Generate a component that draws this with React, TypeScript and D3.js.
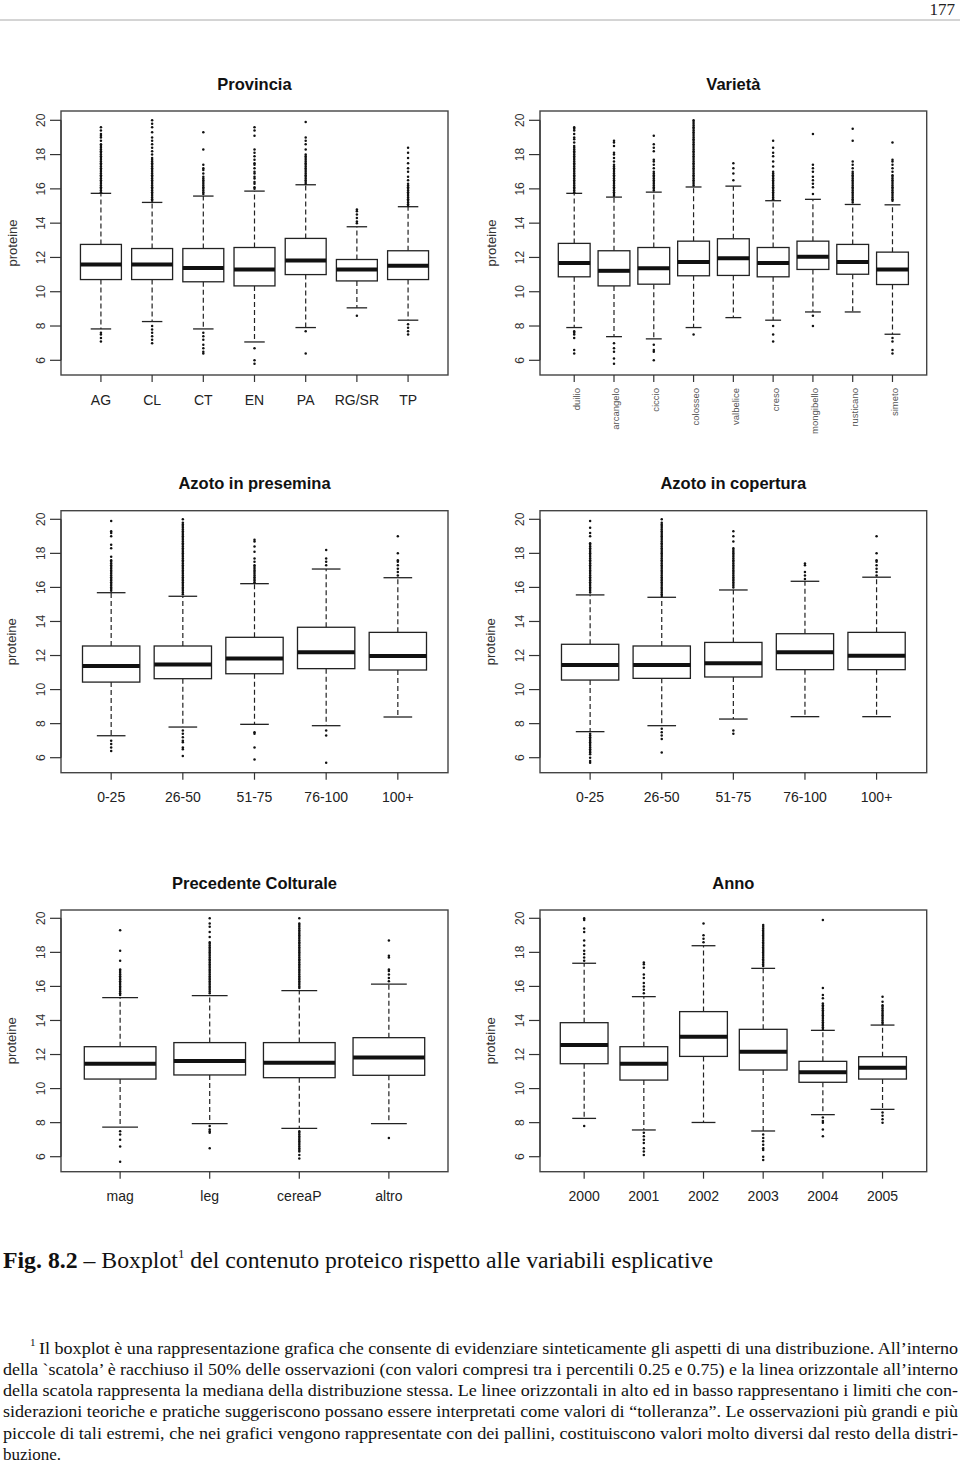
import React from 'react';
import * as d3 from 'd3';

// ---------- Provincia ----------
const provCats = ['AG', 'CL', 'CT', 'EN', 'PA', 'RG/SR', 'TP'];
const provQ1 = [10.71, 10.71, 10.58, 10.34, 11.0, 10.63, 10.71];
const provMed = [11.59, 11.59, 11.39, 11.3, 11.82, 11.3, 11.51];
const provQ3 = [12.76, 12.52, 12.52, 12.58, 13.11, 11.88, 12.39];
const provLo = [7.83, 8.26, 7.83, 7.07, 7.91, 9.06, 8.34];
const provHi = [15.74, 15.21, 15.58, 15.87, 16.24, 13.79, 14.96];
const provOut = [
  [7.1, 7.3, 7.5, 7.6, 15.8, 15.9, 16.0, 16.1, 16.2, 16.3, 16.4, 16.5, 16.6, 16.7, 16.8, 16.9, 17.0, 17.1, 17.2, 17.3, 17.4, 17.5, 17.6, 17.7, 17.8, 17.9, 18.0, 18.1, 18.2, 18.3, 18.4, 18.5, 18.6, 18.8, 19.0, 19.1, 19.2, 19.4, 19.6],
  [7.0, 7.2, 7.4, 7.6, 7.8, 8.0, 15.3, 15.4, 15.5, 15.6, 15.7, 15.8, 15.9, 16.0, 16.1, 16.2, 16.3, 16.4, 16.5, 16.6, 16.7, 16.8, 16.9, 17.0, 17.1, 17.2, 17.3, 17.4, 17.5, 17.6, 17.7, 17.8, 18.0, 18.2, 18.4, 18.6, 18.8, 19.0, 19.3, 19.6, 19.8, 20.0],
  [6.4, 6.5, 6.7, 6.9, 7.2, 7.4, 7.6, 15.7, 15.8, 15.9, 16.0, 16.1, 16.2, 16.3, 16.4, 16.5, 16.6, 16.7, 16.9, 17.1, 17.2, 17.4, 18.3, 19.3],
  [5.8, 6.0, 6.7, 16.0, 16.1, 16.3, 16.4, 16.6, 16.7, 16.9, 17.0, 17.2, 17.4, 17.5, 17.7, 17.9, 18.1, 18.3, 19.1, 19.4, 19.6],
  [6.4, 7.7, 16.3, 16.4, 16.5, 16.6, 16.7, 16.8, 16.9, 17.0, 17.1, 17.2, 17.3, 17.4, 17.5, 17.6, 17.7, 17.8, 17.9, 18.0, 18.3, 18.6, 18.8, 19.0, 19.9],
  [8.6, 14.0, 14.1, 14.3, 14.5, 14.7, 14.8],
  [7.5, 7.7, 7.9, 8.1, 15.0, 15.1, 15.2, 15.3, 15.4, 15.5, 15.6, 15.7, 15.8, 15.9, 16.0, 16.1, 16.2, 16.3, 16.5, 16.7, 17.0, 17.2, 17.5, 17.8, 18.1, 18.4],
];

// ---------- Varietà ----------
const varCats = ['duilio', 'arcangelo', 'ciccio', 'colosseo', 'valbelice', 'creso', 'mongibello', 'rusticano', 'simeto'];
const varQ1 = [10.87, 10.34, 10.44, 10.93, 10.95, 10.87, 11.3, 11.02, 10.42];
const varMed = [11.67, 11.22, 11.37, 11.74, 11.96, 11.67, 12.04, 11.74, 11.3];
const varQ3 = [12.82, 12.39, 12.58, 12.95, 13.09, 12.58, 12.95, 12.76, 12.31];
const varLo = [7.91, 7.38, 7.25, 7.91, 8.49, 8.34, 8.82, 8.82, 7.52];
const varHi = [15.74, 15.52, 15.81, 16.11, 16.16, 15.31, 15.39, 15.09, 15.07];
const varOut = [
  [6.4, 6.6, 7.3, 7.5, 7.6, 7.7, 15.8, 15.9, 16.0, 16.1, 16.2, 16.3, 16.4, 16.5, 16.6, 16.7, 16.8, 16.9, 17.0, 17.1, 17.2, 17.3, 17.4, 17.5, 17.6, 17.7, 17.8, 17.9, 18.0, 18.1, 18.2, 18.3, 18.4, 18.5, 18.7, 18.9, 19.0, 19.2, 19.4, 19.5, 19.6],
  [5.8, 6.1, 6.5, 6.7, 7.0, 15.6, 15.7, 15.8, 15.9, 16.0, 16.1, 16.2, 16.3, 16.4, 16.5, 16.6, 16.7, 16.8, 16.9, 17.0, 17.1, 17.2, 17.3, 17.4, 17.6, 17.8, 18.0, 18.1, 18.5, 18.7, 18.8],
  [6.0, 6.5, 6.6, 6.9, 15.9, 16.0, 16.1, 16.2, 16.3, 16.4, 16.5, 16.6, 16.7, 16.8, 16.9, 17.0, 17.2, 17.4, 17.6, 17.7, 18.2, 18.4, 18.6, 19.1],
  [7.5, 16.2, 16.3, 16.4, 16.5, 16.6, 16.7, 16.8, 16.9, 17.0, 17.1, 17.2, 17.3, 17.4, 17.5, 17.6, 17.7, 17.8, 17.9, 18.0, 18.1, 18.2, 18.3, 18.4, 18.5, 18.6, 18.7, 18.8, 18.9, 19.0, 19.1, 19.2, 19.3, 19.4, 19.5, 19.6, 19.7, 19.8, 19.9, 20.0],
  [16.5, 16.9, 17.2, 17.5],
  [7.1, 7.5, 8.0, 15.4, 15.5, 15.6, 15.7, 15.8, 15.9, 16.0, 16.1, 16.2, 16.3, 16.4, 16.5, 16.6, 16.7, 16.8, 16.9, 17.0, 17.3, 17.6, 17.9, 18.1, 18.4, 18.8],
  [8.0, 8.6, 15.7, 16.1, 16.3, 16.5, 16.7, 17.0, 17.2, 17.4, 19.2],
  [15.2, 15.3, 15.4, 15.5, 15.6, 15.7, 15.8, 15.9, 16.0, 16.1, 16.2, 16.3, 16.4, 16.5, 16.6, 16.7, 16.8, 16.9, 17.0, 17.2, 17.4, 17.6, 18.8, 19.5],
  [6.4, 6.6, 7.1, 7.3, 15.3, 15.4, 15.5, 15.6, 15.7, 15.8, 15.9, 16.0, 16.1, 16.2, 16.3, 16.4, 16.5, 16.6, 16.7, 16.8, 17.0, 17.2, 17.4, 17.6, 17.7, 18.7],
];

// ---------- Azoto in presemina ----------
const presCats = ['0-25', '26-50', '51-75', '76-100', '100+'];
const presQ1 = [10.44, 10.64, 10.93, 11.23, 11.15];
const presMed = [11.38, 11.48, 11.82, 12.19, 11.97];
const presQ3 = [12.56, 12.56, 13.07, 13.66, 13.36];
const presLo = [7.29, 7.8, 7.96, 7.88, 8.39];
const presHi = [15.69, 15.48, 16.22, 17.08, 16.57];
const presOut = [
  [6.4, 6.6, 6.8, 7.0, 15.8, 15.9, 16.0, 16.1, 16.2, 16.3, 16.4, 16.5, 16.6, 16.7, 16.8, 16.9, 17.0, 17.1, 17.2, 17.3, 17.4, 17.5, 17.6, 17.8, 18.3, 18.5, 19.0, 19.2, 19.3, 19.9],
  [6.1, 6.5, 6.6, 6.9, 7.0, 7.2, 7.4, 7.6, 15.6, 15.7, 15.8, 15.9, 16.0, 16.1, 16.2, 16.3, 16.4, 16.5, 16.6, 16.7, 16.8, 16.9, 17.0, 17.1, 17.2, 17.3, 17.4, 17.5, 17.6, 17.7, 17.8, 17.9, 18.0, 18.1, 18.2, 18.3, 18.4, 18.5, 18.6, 18.7, 18.8, 18.9, 19.0, 19.1, 19.2, 19.3, 19.4, 19.5, 19.6, 19.7, 19.8, 20.0],
  [5.9, 6.6, 7.4, 7.5, 16.3, 16.4, 16.5, 16.6, 16.7, 16.8, 16.9, 17.0, 17.1, 17.2, 17.3, 17.5, 17.7, 18.1, 18.4, 18.7, 18.8],
  [5.7, 7.3, 7.6, 17.3, 17.5, 17.7, 18.2],
  [16.7, 16.9, 17.1, 17.3, 17.5, 17.6, 18.0, 19.0],
];

// ---------- Azoto in copertura ----------
const copCats = ['0-25', '26-50', '51-75', '76-100', '100+'];
const copQ1 = [10.56, 10.66, 10.74, 11.17, 11.17];
const copMed = [11.44, 11.44, 11.54, 12.19, 11.99];
const copQ3 = [12.66, 12.56, 12.77, 13.28, 13.36];
const copLo = [7.53, 7.88, 8.27, 8.41, 8.41];
const copHi = [15.56, 15.42, 15.85, 16.36, 16.6];
const copOut = [
  [5.7, 5.8, 6.0, 6.2, 6.3, 6.4, 6.5, 6.6, 6.7, 6.8, 6.9, 7.0, 7.1, 7.2, 7.3, 7.4, 15.7, 15.8, 15.9, 16.0, 16.1, 16.2, 16.3, 16.4, 16.5, 16.6, 16.7, 16.8, 16.9, 17.0, 17.1, 17.2, 17.3, 17.4, 17.5, 17.6, 17.7, 17.8, 17.9, 18.0, 18.1, 18.2, 18.3, 18.4, 18.5, 18.6, 19.0, 19.2, 19.5, 19.9],
  [6.3, 7.1, 7.3, 7.5, 7.7, 15.5, 15.6, 15.7, 15.8, 15.9, 16.0, 16.1, 16.2, 16.3, 16.4, 16.5, 16.6, 16.7, 16.8, 16.9, 17.0, 17.1, 17.2, 17.3, 17.4, 17.5, 17.6, 17.7, 17.8, 17.9, 18.0, 18.1, 18.2, 18.3, 18.4, 18.5, 18.6, 18.7, 18.8, 18.9, 19.0, 19.1, 19.2, 19.3, 19.4, 19.5, 19.6, 19.7, 19.8, 20.0],
  [7.4, 7.6, 16.0, 16.1, 16.2, 16.3, 16.4, 16.5, 16.6, 16.7, 16.8, 16.9, 17.0, 17.1, 17.2, 17.3, 17.4, 17.5, 17.6, 17.7, 17.8, 17.9, 18.0, 18.1, 18.2, 18.3, 18.7, 19.0, 19.3],
  [16.5, 16.7, 16.9, 17.3, 17.4],
  [16.7, 16.9, 17.1, 17.3, 17.5, 17.6, 18.0, 19.0],
];

// ---------- Precedente Colturale ----------
const precCats = ['mag', 'leg', 'cereaP', 'altro'];
const precQ1 = [10.56, 10.8, 10.64, 10.78];
const precMed = [11.46, 11.62, 11.52, 11.82];
const precQ3 = [12.46, 12.7, 12.7, 12.99];
const precLo = [7.74, 7.94, 7.66, 7.94];
const precHi = [15.34, 15.46, 15.75, 16.14];
const precOut = [
  [5.7, 6.6, 7.0, 7.3, 7.5, 15.5, 15.6, 15.7, 15.8, 15.9, 16.0, 16.1, 16.2, 16.3, 16.4, 16.5, 16.6, 16.7, 16.8, 16.9, 17.0, 17.5, 18.1, 19.3],
  [6.5, 7.4, 7.5, 7.6, 7.8, 15.6, 15.7, 15.8, 15.9, 16.0, 16.1, 16.2, 16.3, 16.4, 16.5, 16.6, 16.7, 16.8, 16.9, 17.0, 17.1, 17.2, 17.3, 17.4, 17.5, 17.6, 17.7, 17.8, 17.9, 18.0, 18.1, 18.2, 18.3, 18.4, 18.5, 18.6, 18.9, 19.2, 19.5, 19.7, 20.0],
  [5.9, 6.1, 6.3, 6.4, 6.5, 6.6, 6.7, 6.8, 6.9, 7.0, 7.1, 7.2, 7.3, 7.4, 7.5, 15.9, 16.0, 16.1, 16.2, 16.3, 16.4, 16.5, 16.6, 16.7, 16.8, 16.9, 17.0, 17.1, 17.2, 17.3, 17.4, 17.5, 17.6, 17.7, 17.8, 17.9, 18.0, 18.1, 18.2, 18.3, 18.4, 18.5, 18.6, 18.7, 18.8, 18.9, 19.0, 19.1, 19.2, 19.3, 19.4, 19.5, 19.6, 19.7, 20.0],
  [7.1, 16.3, 16.5, 16.7, 16.9, 17.0, 17.7, 17.8, 18.7],
];

// ---------- Anno ----------
const annoCats = ['2000', '2001', '2002', '2003', '2004', '2005'];
const annoQ1 = [11.46, 10.5, 11.89, 11.09, 10.37, 10.56];
const annoMed = [12.56, 11.46, 13.05, 12.17, 10.96, 11.23];
const annoQ3 = [13.87, 12.46, 14.52, 13.48, 11.6, 11.87];
const annoLo = [8.25, 7.57, 8.01, 7.51, 8.47, 8.78];
const annoHi = [17.36, 15.4, 18.39, 17.06, 13.42, 13.73];
const annoOut = [
  [7.8, 17.5, 17.7, 17.9, 18.1, 18.4, 18.7, 19.2, 19.4, 19.9, 20.0],
  [6.1, 6.3, 6.5, 6.8, 7.0, 7.2, 7.4, 15.6, 15.8, 16.0, 16.2, 16.5, 16.7, 17.1, 17.3, 17.4],
  [18.6, 18.8, 19.0, 19.7],
  [5.8, 6.0, 6.4, 6.5, 6.7, 6.9, 7.1, 7.3, 17.2, 17.3, 17.4, 17.5, 17.6, 17.7, 17.8, 17.9, 18.0, 18.1, 18.2, 18.3, 18.4, 18.5, 18.6, 18.7, 18.8, 18.9, 19.0, 19.1, 19.2, 19.3, 19.4, 19.5, 19.6],
  [7.2, 7.6, 8.0, 8.1, 8.3, 13.5, 13.6, 13.7, 13.8, 13.9, 14.0, 14.1, 14.2, 14.3, 14.4, 14.5, 14.6, 14.7, 14.8, 14.9, 15.0, 15.3, 15.5, 15.9, 19.9],
  [8.0, 8.2, 8.4, 8.6, 13.8, 13.9, 14.0, 14.1, 14.2, 14.3, 14.4, 14.5, 14.6, 14.7, 14.8, 14.9, 15.1, 15.4],
];

const yTicks = [6, 8, 10, 12, 14, 16, 18, 20];

const footLines = [
  'Il boxplot è una rappresentazione grafica che consente di evidenziare sinteticamente gli aspetti di una distribuzione. All’interno',
  'della `scatola’ è racchiuso il 50% delle osservazioni (con valori compresi tra i percentili 0.25 e 0.75) e la linea orizzontale all’interno',
  'della scatola rappresenta la mediana della distribuzione stessa. Le linee orizzontali in alto ed in basso rappresentano i limiti che con-',
  'siderazioni teoriche e pratiche suggeriscono possano essere interpretati come valori di “tolleranza”. Le osservazioni più grandi e più',
  'piccole di tali estremi, che nei grafici vengono rappresentate con dei pallini, costituiscono valori molto diversi dal resto della distri-',
  'buzione.',
];

const SANS = 'Liberation Sans, Arial, Helvetica, sans-serif';
const SERIF = 'Liberation Serif, Times New Roman, serif';

type PanelProps = {
  title: string;
  cats: string[];
  q1: number[];
  med: number[];
  q3: number[];
  lo: number[];
  hi: number[];
  out: number[][];
  x0: number;
  x1: number;
  top: number;
  bottom: number;
  y20: number;
  y6: number;
  titleY: number;
  rotated?: boolean;
};

function Panel(p: PanelProps) {
  const n = p.cats.length;
  const pad = 0.04 * n;
  const x = d3.scaleLinear().domain([0.5 - pad, n + 0.5 + pad]).range([p.x0, p.x1]);
  const y = d3.scaleLinear().domain([6, 20]).range([p.y6, p.y20]);
  const bw = x(0.4) - x(0);
  const cw = x(0.2) - x(0);
  const midY = (p.top + p.bottom) / 2;
  return (
    <g>
      <text x={(p.x0 + p.x1) / 2} y={p.titleY + 5.5} textAnchor="middle" fontFamily={SANS} fontWeight="bold" fontSize={16.5} fill="#111">
        {p.title}
      </text>
      <rect x={p.x0} y={p.top} width={p.x1 - p.x0} height={p.bottom - p.top} fill="none" stroke="#444" strokeWidth={1.4} />
      {yTicks.map((t) => (
        <g key={'yt' + t}>
          <line x1={p.x0 - 11} x2={p.x0} y1={y(t)} y2={y(t)} stroke="#333" strokeWidth={1.2} />
          <text
            x={p.x0 - 19.5}
            y={y(t)}
            transform={`rotate(-90, ${p.x0 - 19.5}, ${y(t)})`}
            textAnchor="middle"
            dominantBaseline="central"
            fontFamily={SANS}
            fontSize={12}
            fill="#333"
          >
            {t}
          </text>
        </g>
      ))}
      <line x1={p.x0} x2={p.x0} y1={y(6)} y2={y(20)} stroke="#333" strokeWidth={1.2} />
      <text
        x={p.x0 - 49}
        y={midY}
        transform={`rotate(-90, ${p.x0 - 49}, ${midY})`}
        textAnchor="middle"
        dominantBaseline="central"
        fontFamily={SANS}
        fontSize={13}
        fill="#333"
      >
        proteine
      </text>
      {p.cats.map((c, i) => {
        const cx = x(i + 1);
        return (
          <g key={c}>
            <line x1={cx} x2={cx} y1={p.bottom} y2={p.bottom + 7} stroke="#333" strokeWidth={1.2} />
            {p.rotated ? (
              <text
                x={cx + 2}
                y={p.bottom + 13}
                transform={`rotate(-90, ${cx + 2}, ${p.bottom + 13})`}
                textAnchor="end"
                dominantBaseline="central"
                fontFamily={SANS}
                fontSize={9.5}
                fill="#555"
              >
                {c}
              </text>
            ) : (
              <text x={cx} y={p.bottom + 29.5} textAnchor="middle" fontFamily={SANS} fontSize={14} fill="#222">
                {c}
              </text>
            )}
            <line x1={cx} x2={cx} y1={y(p.q3[i])} y2={y(p.hi[i])} stroke="#222" strokeWidth={1.2} strokeDasharray="5,3" />
            <line x1={cx} x2={cx} y1={y(p.q1[i])} y2={y(p.lo[i])} stroke="#222" strokeWidth={1.2} strokeDasharray="5,3" />
            <line x1={cx - cw} x2={cx + cw} y1={y(p.hi[i])} y2={y(p.hi[i])} stroke="#222" strokeWidth={1.3} />
            <line x1={cx - cw} x2={cx + cw} y1={y(p.lo[i])} y2={y(p.lo[i])} stroke="#222" strokeWidth={1.3} />
            <rect
              x={cx - bw}
              y={y(p.q3[i])}
              width={2 * bw}
              height={y(p.q1[i]) - y(p.q3[i])}
              fill="#fff"
              stroke="#222"
              strokeWidth={1.3}
            />
            <line x1={cx - bw} x2={cx + bw} y1={y(p.med[i])} y2={y(p.med[i])} stroke="#111" strokeWidth={4} />
            {p.out[i].map((v, k) => (
              <circle key={k} cx={cx} cy={y(v)} r={1.25} fill="#111" />
            ))}
          </g>
        );
      })}
    </g>
  );
}

export default function App() {
  const L = { x0: 61, x1: 448 };
  const R = { x0: 540, x1: 926.7 };
  const row1 = { top: 111, bottom: 375, y20: 120.3, y6: 360.3, titleY: 84 };
  const row2 = { top: 510.7, bottom: 772.7, y20: 519.3, y6: 757.7, titleY: 483 };
  const row3 = { top: 910, bottom: 1171.7, y20: 918.3, y6: 1156.7, titleY: 883 };
  const lineYs = [1353.5, 1374.8, 1396.1, 1417.4, 1438.7, 1459.5];
  return (
    <svg width={960} height={1463} style={{ position: 'absolute', left: 0, top: 0, background: '#fff' }}>
      <rect x={0} y={0} width={960} height={1463} fill="#fff" />
      <text x={955} y={15} textAnchor="end" fontFamily={SERIF} fontSize={17} fill="#222">177</text>
      <line x1={0} x2={960} y1={20} y2={20} stroke="#aaa" strokeWidth={1} />

      <Panel title="Provincia" cats={provCats} q1={provQ1} med={provMed} q3={provQ3} lo={provLo} hi={provHi} out={provOut} {...L} {...row1} />
      <Panel title="Varietà" cats={varCats} q1={varQ1} med={varMed} q3={varQ3} lo={varLo} hi={varHi} out={varOut} {...R} {...row1} rotated />
      <Panel title="Azoto in presemina" cats={presCats} q1={presQ1} med={presMed} q3={presQ3} lo={presLo} hi={presHi} out={presOut} {...L} {...row2} />
      <Panel title="Azoto in copertura" cats={copCats} q1={copQ1} med={copMed} q3={copQ3} lo={copLo} hi={copHi} out={copOut} {...R} {...row2} />
      <Panel title="Precedente Colturale" cats={precCats} q1={precQ1} med={precMed} q3={precQ3} lo={precLo} hi={precHi} out={precOut} {...L} {...row3} />
      <Panel title="Anno" cats={annoCats} q1={annoQ1} med={annoMed} q3={annoQ3} lo={annoLo} hi={annoHi} out={annoOut} {...R} {...row3} />

      <text x={3} y={1268} fontFamily={SERIF} fontSize={24} fill="#111" textLength={710} lengthAdjust="spacingAndGlyphs">
        <tspan fontWeight="bold">Fig. 8.2</tspan>
        <tspan> – Boxplot</tspan>
        <tspan fontSize={13} dy={-10}>1</tspan>
        <tspan dy={10}> del contenuto proteico rispetto alle variabili esplicative</tspan>
      </text>

      <text x={30} y={1346} fontFamily={SERIF} fontSize={11} fill="#111">1</text>
      {footLines.map((l, i) => {
        const x0 = i === 0 ? 39 : 3;
        const last = i === footLines.length - 1;
        return (
          <text
            key={i}
            x={x0}
            y={lineYs[i]}
            fontFamily={SERIF}
            fontSize={17}
            fill="#111"
            textLength={last ? undefined : 958 - x0}
            lengthAdjust="spacingAndGlyphs"
          >
            {l}
          </text>
        );
      })}
    </svg>
  );
}
